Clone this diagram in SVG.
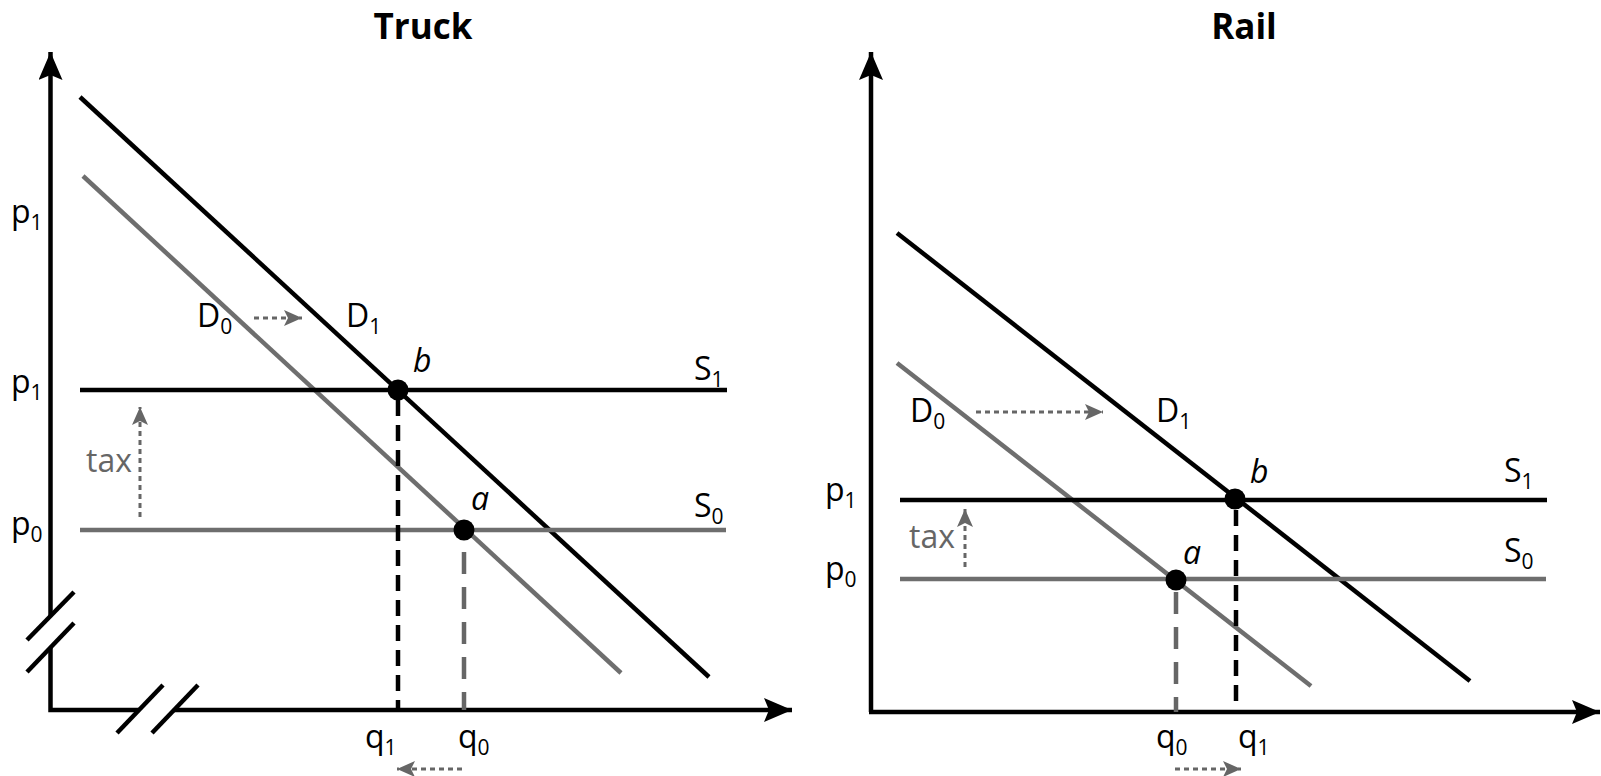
<svg xmlns="http://www.w3.org/2000/svg" width="1601" height="776" viewBox="0 0 1601 776">
<style>
text{font-family:"Open Sans","Noto Sans","Liberation Sans",sans-serif;font-size:32px;fill:#000}
.title{font-weight:bold;font-size:35px}
.it{font-style:italic}
.gt{fill:#666}
.sub{font-size:21px}
.axis{stroke:#000;stroke-width:4.5;fill:none}
.blk{stroke:#000;stroke-width:4.5;fill:none}
.gry{stroke:#6e6e6e;stroke-width:4.5;fill:none}
.dashb{stroke:#000;stroke-width:4.5;stroke-dasharray:16 9;fill:none}
.dashg{stroke:#666;stroke-width:4.5;stroke-dasharray:22 13;fill:none}
.arr{stroke:#666;stroke-width:3;stroke-dasharray:5 4;fill:none;marker-end:url(#ga)}
.brk{stroke:#000;stroke-width:4.5}
</style>
<defs>
<marker id="ax" markerUnits="userSpaceOnUse" markerWidth="32" markerHeight="28" refX="28" refY="12" orient="auto">
<path d="M28,12 L0,0 L5,12 L0,24 Z" fill="#000"/>
</marker>
<marker id="ga" markerUnits="userSpaceOnUse" markerWidth="20" markerHeight="16" refX="18" refY="8" orient="auto">
<path d="M18,8 L0,0 L4,8 L0,16 Z" fill="#666"/>
</marker>
</defs>

<g id="truck">
<text class="title" x="423" y="39" text-anchor="middle">Truck</text>
<g id="truck-axes">
<path class="axis" d="M50.5,616 V52" marker-end="url(#ax)"/>
<path class="axis" d="M50.5,648 V710 H139"/>
<path class="axis" d="M174,710 H792" marker-end="url(#ax)"/>
<line class="brk" x1="27" y1="640" x2="74" y2="592"/>
<line class="brk" x1="27" y1="672" x2="74" y2="623"/>
<line class="brk" x1="117" y1="733" x2="163" y2="685"/>
<line class="brk" x1="152" y1="733" x2="198" y2="685"/>
</g>
<g id="truck-curves">
<line class="blk" x1="80" y1="97" x2="709" y2="677"/>
<line class="gry" x1="83" y1="176" x2="621" y2="673"/>
<line class="blk" x1="80" y1="390" x2="727" y2="390"/>
<line class="gry" x1="80" y1="530" x2="726" y2="530"/>
</g>
<g id="truck-connectors">
<line class="dashb" x1="398" y1="400" x2="398" y2="710"/>
<line class="dashg" x1="464" y1="552" x2="464" y2="710"/>
<line class="arr" x1="254" y1="318" x2="302" y2="318"/>
<line class="arr" x1="140" y1="517" x2="140" y2="407"/>
<line class="arr" x1="462" y1="769" x2="397" y2="769"/>
</g>
<g id="truck-b"><circle cx="398" cy="390" r="10.5"/><text class="it" x="413" y="372">b</text></g>
<g id="truck-a"><circle cx="464" cy="530" r="10.5"/><text class="it" x="471" y="510">a</text></g>
<g id="truck-labels">
<text x="11" y="223">p<tspan class="sub" dy="7">1</tspan></text>
<text x="11" y="393">p<tspan class="sub" dy="7">1</tspan></text>
<text x="11" y="535">p<tspan class="sub" dy="7">0</tspan></text>
<text x="197" y="327">D<tspan class="sub" dy="7">0</tspan></text>
<text x="346" y="327">D<tspan class="sub" dy="7">1</tspan></text>
<text x="694" y="380">S<tspan class="sub" dy="7">1</tspan></text>
<text x="694" y="517">S<tspan class="sub" dy="7">0</tspan></text>
<text class="gt" x="86" y="472">tax</text>
<text x="365" y="748">q<tspan class="sub" dy="7">1</tspan></text>
<text x="458" y="748">q<tspan class="sub" dy="7">0</tspan></text>
</g>
</g>

<g id="rail">
<text class="title" x="1244" y="39" text-anchor="middle">Rail</text>
<g id="rail-axes">
<path class="axis" d="M871,712 V52" marker-end="url(#ax)"/>
<path class="axis" d="M869,712 H1600" marker-end="url(#ax)"/>
</g>
<g id="rail-curves">
<line class="blk" x1="897" y1="233" x2="1470" y2="681"/>
<line class="gry" x1="897" y1="363" x2="1311" y2="686"/>
<line class="blk" x1="900" y1="500" x2="1547" y2="500"/>
<line class="gry" x1="900" y1="579" x2="1546" y2="579"/>
</g>
<g id="rail-connectors">
<line class="dashb" x1="1236" y1="510" x2="1236" y2="712"/>
<line class="dashg" x1="1176" y1="592" x2="1176" y2="712"/>
<line class="arr" x1="976" y1="412" x2="1103" y2="412"/>
<line class="arr" x1="965" y1="567" x2="965" y2="509"/>
<line class="arr" x1="1175" y1="769" x2="1241" y2="769"/>
</g>
<g id="rail-b"><circle cx="1235" cy="499" r="10.5"/><text class="it" x="1250" y="483">b</text></g>
<g id="rail-a"><circle cx="1176" cy="580" r="10.5"/><text class="it" x="1183" y="564">a</text></g>
<g id="rail-labels">
<text x="825" y="501">p<tspan class="sub" dy="7">1</tspan></text>
<text x="825" y="580">p<tspan class="sub" dy="7">0</tspan></text>
<text x="910" y="422">D<tspan class="sub" dy="7">0</tspan></text>
<text x="1156" y="422">D<tspan class="sub" dy="7">1</tspan></text>
<text x="1504" y="482">S<tspan class="sub" dy="7">1</tspan></text>
<text x="1504" y="562">S<tspan class="sub" dy="7">0</tspan></text>
<text class="gt" x="909" y="548">tax</text>
<text x="1156" y="748">q<tspan class="sub" dy="7">0</tspan></text>
<text x="1238" y="748">q<tspan class="sub" dy="7">1</tspan></text>
</g>
</g>
</svg>
